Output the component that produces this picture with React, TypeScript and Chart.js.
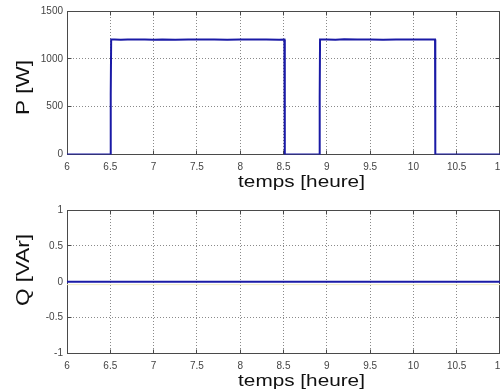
import React, { useEffect, useRef } from 'react';
import { Chart, registerables } from 'chart.js';

Chart.register(...registerables);

// ---- data ----
const X_TICKS = [6, 6.5, 7, 7.5, 8, 8.5, 9, 9.5, 10, 10.5, 11];
const X_TICK_LABELS = ['6', '6.5', '7', '7.5', '8', '8.5', '9', '9.5', '10', '10.5', '11'];
const P_TICKS = [0, 500, 1000, 1500];
const P_TICK_LABELS = ['0', '500', '1000', '1500'];
const Q_TICKS = [-1, -0.5, 0, 0.5, 1];
const Q_TICK_LABELS = ['-1', '-0.5', '0', '0.5', '1'];

const P_TIME = [
  6, 6.5, 6.503, 6.507, 6.51, 6.55, 6.62, 6.7, 6.8, 6.9, 7.0, 7.1, 7.25, 7.4, 7.55, 7.7, 7.85, 8.0,
  8.15, 8.3, 8.45, 8.51, 8.515, 8.915, 8.918, 8.922, 9.0, 9.1, 9.2, 9.35, 9.5, 9.65, 9.8, 9.95,
  10.1, 10.25, 10.253, 11,
];
const P_VALUES = [
  0, 0, 600, 620, 1202, 1203, 1200, 1202, 1201, 1203, 1199, 1202, 1200, 1203, 1201, 1202, 1200, 1202,
  1201, 1203, 1200, 1202, 0, 0, 600, 1202, 1203, 1200, 1204, 1201, 1203, 1200, 1202, 1201,
  1202, 1201, 0, 0,
];
const Q_TIME = [6, 11];
const Q_VALUES = [0, 0];
const Q_AUX_VALUES = [-0.04, -0.04];

const X_TITLE = 'temps [heure]';
const P_TITLE = 'P [W]';
const Q_TITLE = 'Q [VAr]';

const LINE_COLOR = '#1a1aa6';
const FONT = '"Liberation Sans", Arial, Helvetica, sans-serif';

function drawStretched(ctx: CanvasRenderingContext2D, text: string, x: number, y: number, rot: number, size: number, stretch: number, baseline: CanvasTextBaseline) {
  ctx.save();
  ctx.translate(x, y);
  ctx.rotate(rot);
  ctx.scale(stretch, 1);
  ctx.font = `${size}px ${FONT}`;
  ctx.textAlign = 'center';
  ctx.textBaseline = baseline;
  ctx.fillStyle = '#111';
  ctx.fillText(text, 0, 0);
  ctx.restore();
}

const matlabFrame = {
  id: 'matlabFrame',
  beforeDatasetsDraw(chart: any, _args: any, opts: any) {
    const { ctx, chartArea: a, scales } = chart;
    const L = Math.round(a.left) + 0.5;
    const R = Math.round(a.right) - 0.5;
    const T = Math.round(a.top) + 0.5;
    const B = Math.round(a.bottom) - 0.5;
    const len = opts.tickLength;
    ctx.save();
    ctx.strokeStyle = opts.color;
    ctx.lineWidth = 1;
    ctx.setLineDash([]);
    ctx.strokeRect(L, T, R - L, B - T);
    ctx.beginPath();
    scales.x.ticks.forEach((t: any) => {
      const px = Math.round(scales.x.getPixelForValue(t.value) - 0.5) + 0.5;
      ctx.moveTo(px, B);
      ctx.lineTo(px, B - len);
      ctx.moveTo(px, T);
      ctx.lineTo(px, T + len);
    });
    scales.y.ticks.forEach((t: any) => {
      const py = Math.round(scales.y.getPixelForValue(t.value) - 0.5) + 0.5;
      ctx.moveTo(L, py);
      ctx.lineTo(L + len, py);
      ctx.moveTo(R, py);
      ctx.lineTo(R - len, py);
    });
    ctx.stroke();
    ctx.restore();
  },
  afterDraw(chart: any, _args: any, opts: any) {
    const { ctx } = chart;
    const xt = opts.xTitle;
    drawStretched(ctx, xt.text, xt.x, xt.y, 0, xt.size, xt.stretch, 'alphabetic');
    const yt = opts.yTitle;
    drawStretched(ctx, yt.text, yt.x, yt.y, -Math.PI / 2, yt.size, yt.stretch, 'middle');
  },
};

function makeConfig(kind: 'P' | 'Q'): any {
  const isP = kind === 'P';
  const yTicks = isP ? P_TICKS : Q_TICKS;
  const yLabels = isP ? P_TICK_LABELS : Q_TICK_LABELS;
  const datasets: any[] = [];
  if (isP) {
    datasets.push({
      data: P_TIME.map((t, i) => ({ x: t, y: P_VALUES[i] })),
      borderColor: LINE_COLOR,
      borderWidth: 2,
      pointRadius: 0,
      tension: 0,
      fill: false,
    });
  } else {
    datasets.push({
      data: Q_TIME.map((t, i) => ({ x: t, y: Q_AUX_VALUES[i] })),
      borderColor: '#f1edc4',
      borderWidth: 1,
      pointRadius: 0,
      fill: false,
    });
    datasets.push({
      data: Q_TIME.map((t, i) => ({ x: t, y: Q_VALUES[i] })),
      borderColor: LINE_COLOR,
      borderWidth: 2,
      pointRadius: 0,
      fill: false,
    });
  }
  const tickFont = { family: FONT, size: 10 };
  return {
    type: 'line',
    data: { datasets },
    plugins: [matlabFrame],
    options: {
      responsive: false,
      maintainAspectRatio: false,
      animation: false,
      events: [],
      layout: { padding: { top: isP ? 11 : 14, right: 0, left: 0, bottom: 0 } },
      plugins: {
        legend: { display: false },
        tooltip: { enabled: false },
        matlabFrame: {
          color: '#4a4a4a',
          tickLength: 4,
          xTitle: { text: X_TITLE, x: 301.5, y: isP ? 187 : 190, size: 17, stretch: 1.22 },
          yTitle: { text: isP ? P_TITLE : Q_TITLE, x: 24, y: isP ? 87.5 : 74, size: 18, stretch: 1.25 },
        },
      },
      scales: {
        x: {
          type: 'linear',
          min: 6,
          max: 11,
          afterBuildTicks: (s: any) => { s.ticks = X_TICKS.map((v) => ({ value: v })); },
          afterFit: (s: any) => { s.height = isP ? 41.5 : 38.5; s.paddingLeft = 0; s.paddingRight = 0; },
          ticks: {
            autoSkip: false,
            maxRotation: 0,
            padding: 7,
            color: '#444',
            font: tickFont,
            callback: (v: number) => X_TICK_LABELS[X_TICKS.indexOf(v)] ?? '',
          },
          grid: { color: '#8a8a8a', lineWidth: 1, drawTicks: false },
          border: { display: false, dash: [1, 2] },
        },
        y: {
          type: 'linear',
          min: yTicks[0],
          max: yTicks[yTicks.length - 1],
          afterBuildTicks: (s: any) => { s.ticks = yTicks.map((v) => ({ value: v })); },
          afterFit: (s: any) => { s.width = 67; s.paddingTop = 0; s.paddingBottom = 0; },
          ticks: {
            autoSkip: false,
            padding: 4,
            color: '#444',
            font: tickFont,
            callback: (v: number) => yLabels[yTicks.indexOf(v)] ?? '',
          },
          grid: { color: '#8a8a8a', lineWidth: 1, drawTicks: false },
          border: { display: false, dash: [1, 2] },
        },
      },
    },
  };
}

function Panel({ kind, top }: { kind: 'P' | 'Q'; top: number }) {
  const ref = useRef<HTMLCanvasElement | null>(null);
  useEffect(() => {
    if (!ref.current) return;
    const chart = new Chart(ref.current, makeConfig(kind));
    return () => chart.destroy();
  }, [kind]);
  return (
    <canvas
      ref={ref}
      width={500}
      height={196}
      style={{ position: 'absolute', left: 0, top, width: 500, height: 196, display: 'block' }}
    />
  );
}

export default function App() {
  return (
    <div style={{ position: 'absolute', left: 0, top: 0, width: 500, height: 392, background: '#fff', overflow: 'hidden' }}>
      <Panel kind="P" top={0} />
      <Panel kind="Q" top={196} />
    </div>
  );
}
